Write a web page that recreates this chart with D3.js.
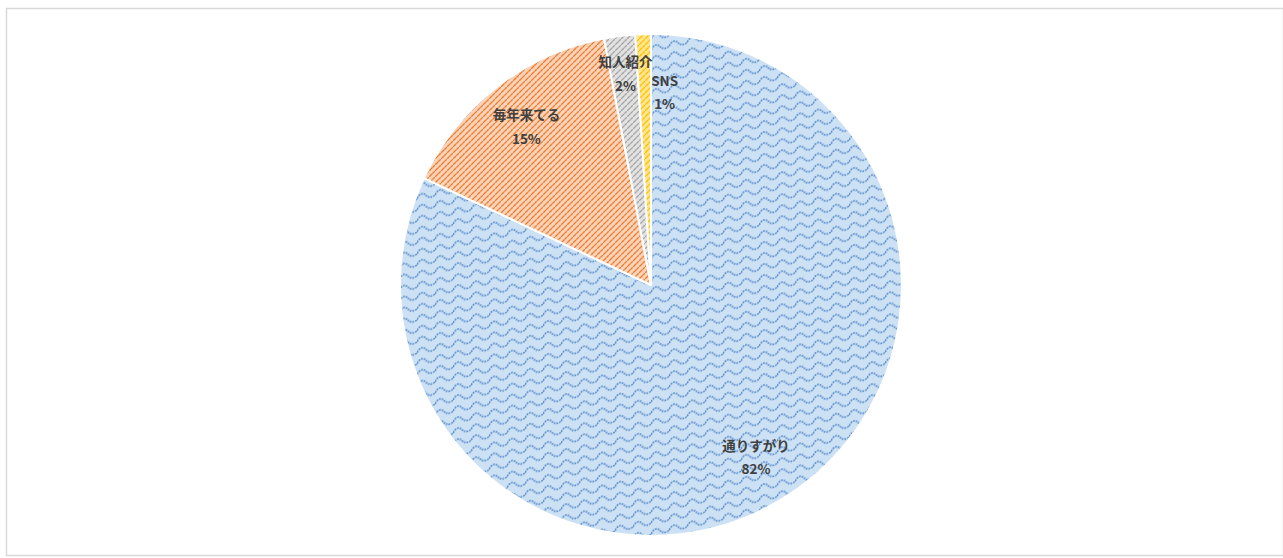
<!DOCTYPE html>
<html>
<head>
<meta charset="utf-8">
<script src="https://cdn.jsdelivr.net/npm/d3@7"></script>
<style>
  body { margin: 0; background: #fff; }
  svg { display: block; }
  .lbl { font-family: "Noto Sans CJK JP", "Noto Sans", sans-serif; font-size: 13.5px; font-weight: 700; fill: #404040; }
</style>
</head>
<body>
<svg id="chart" width="1283" height="558"></svg>
<script>
// slices, clockwise from 12 o'clock (Excel order)
const categories = ['通りすがり', '毎年来てる', '知人紹介', 'SNS'];
const shares = [82, 15, 2, 1];
const fgColors = ['#5b8fcc', '#ed7d31', '#a5a5a5', '#ffc000'];
const bgColors = ['#cde1f5', '#fad3b8', '#e2e2e2', '#ffe58f'];
const patternKinds = ['wave', 'dash', 'dash', 'dash'];

const W = 1283, H = 558;
const cx = 651, cy = 285, R = 251;

const svg = d3.select('#chart');

// outer frame like the Excel chart area
svg.append('rect')
  .attr('x', 6.5).attr('y', 8.5)
  .attr('width', W - 6).attr('height', H - 11)
  .attr('fill', '#fff')
  .attr('stroke', '#d9d9d9')
  .attr('stroke-width', 1.5);

const defs = svg.append('defs');

categories.forEach((c, i) => {
  const id = `pat${i}`;
  if (patternKinds[i] === 'wave') {
    const p = defs.append('pattern')
      .attr('id', id)
      .attr('patternUnits', 'userSpaceOnUse')
      .attr('width', 18).attr('height', 11)
      .attr('patternTransform', 'skewY(-12)');
    p.append('rect').attr('width', 18).attr('height', 11).attr('fill', bgColors[i]);
    p.append('path')
      .attr('d', 'M0,7 C3,2 6,2 9,5.5 C12,9 15,9 18,7')
      .attr('fill', 'none')
      .attr('stroke', fgColors[i])
      .attr('stroke-width', 1.7)
      .attr('stroke-dasharray', '1.8 1');
  } else {
    const p = defs.append('pattern')
      .attr('id', id)
      .attr('patternUnits', 'userSpaceOnUse')
      .attr('width', 6).attr('height', 6);
    p.append('rect').attr('width', 6).attr('height', 6).attr('fill', bgColors[i]);
    p.append('path')
      .attr('d', 'M0,6 L3,3 M4,2 L6,0')
      .attr('stroke', fgColors[i])
      .attr('stroke-width', 1.3)
      .attr('stroke-linecap', 'round');
  }
});

const data = categories.map((c, i) => ({ name: c, value: shares[i], idx: i }));

const pie = d3.pie().sort(null).value((d) => d.value);
const arcs = pie(data);

const arc = d3.arc().innerRadius(0).outerRadius(R);
const labelArc = d3.arc().innerRadius(R * 0.81).outerRadius(R * 0.81);

const g = svg.append('g').attr('transform', `translate(${cx},${cy})`);

g.selectAll('path.slice')
  .data(arcs)
  .join('path')
  .attr('class', 'slice')
  .attr('d', arc)
  .attr('fill', (d) => `url(#pat${d.data.idx})`)
  .attr('stroke', '#fff')
  .attr('stroke-width', 2)
  .attr('stroke-linejoin', 'round');

// Excel best-fit nudges for the thin slices and the big one
const nudge = { '通りすがり': [-4, -2], '知人紹介': [0, -12], 'SNS': [20, 8] };

const labels = g.selectAll('text.lbl')
  .data(arcs)
  .join('text')
  .attr('class', 'lbl')
  .attr('text-anchor', 'middle')
  .attr('transform', (d) => {
    const [x, y] = labelArc.centroid(d);
    const n = nudge[d.data.name] || [0, 0];
    return `translate(${x + n[0]},${y + n[1]})`;
  });

labels.append('tspan')
  .attr('x', 0).attr('dy', '-0.3em')
  .text((d) => d.data.name);
labels.append('tspan')
  .attr('x', 0).attr('dy', '1.75em')
  .text((d) => `${d.data.value}%`);
</script>
</body>
</html>
